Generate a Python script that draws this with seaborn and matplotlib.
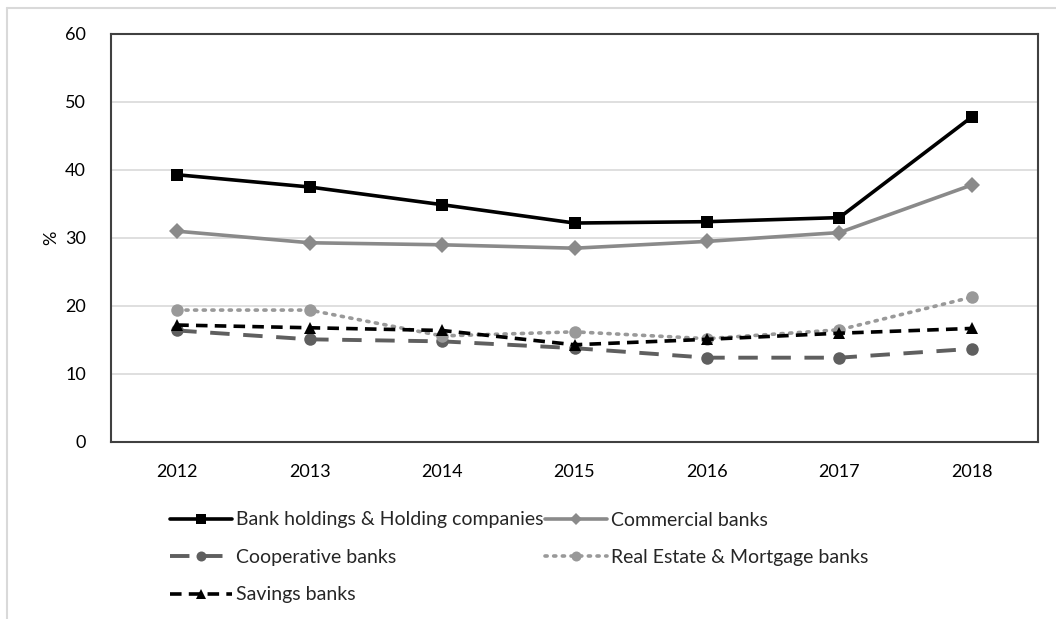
import matplotlib
matplotlib.use("Agg")
import matplotlib.pyplot as plt
from matplotlib.lines import Line2D
import seaborn as sns
import pandas as pd

# Share of institutions (%) per year and bank type
years = [2012, 2013, 2014, 2015, 2016, 2017, 2018]
bank_holdings = [39.3, 37.5, 34.9, 32.2, 32.4, 33.0, 47.8]
commercial = [31.0, 29.3, 29.0, 28.5, 29.5, 30.8, 37.8]
cooperative = [16.4, 15.1, 14.8, 13.8, 12.4, 12.4, 13.7]
real_estate = [19.4, 19.4, 15.6, 16.2, 15.2, 16.5, 21.3]
savings = [17.2, 16.8, 16.4, 14.3, 15.1, 16.0, 16.7]

series_names = [
    "Bank holdings & Holding companies",
    "Commercial banks",
    "Cooperative banks",
    "Real Estate & Mortgage banks",
    "Savings banks",
]
series_values = [bank_holdings, commercial, cooperative, real_estate, savings]

styles = {
    "Bank holdings & Holding companies": dict(color="#000000", lw=2.6, ls="-", marker="s", ms=9),
    "Commercial banks": dict(color="#8a8a8a", lw=2.6, ls="-", marker="D", ms=8),
    "Cooperative banks": dict(color="#5f5f5f", lw=2.8, ls=(0, (5, 3.5)), marker="o", ms=9),
    "Real Estate & Mortgage banks": dict(color="#999999", lw=2.6, ls=(0, (0.6, 1.8)), marker="o", ms=9),
    "Savings banks": dict(color="#000000", lw=2.6, ls=(0, (3.2, 2.0)), marker="^", ms=9),
}

df = pd.DataFrame(
    [(n, y, v) for n, vals in zip(series_names, series_values) for y, v in zip(years, vals)],
    columns=["series", "year", "value"],
)

sns.set_theme(style="white")
plt.rcParams["font.family"] = ["Lato", "DejaVu Sans"]

fig = plt.figure(figsize=(10.56, 6.19), dpi=100)
ax = fig.add_axes([111 / 1056, 1 - 442 / 619, (1038 - 111) / 1056, (442 - 34) / 619])

handles = {}
for name in series_names:
    st = styles[name]
    sub = df[df["series"] == name]
    sns.lineplot(data=sub, x="year", y="value", ax=ax, color=st["color"],
                 linewidth=st["lw"], marker=st["marker"], markersize=st["ms"],
                 markeredgewidth=0, legend=False)
    line = ax.lines[-1]
    line.set_linestyle(st["ls"])
    line.set_dash_capstyle("round" if name.startswith("Real") else "butt")
    handles[name] = Line2D([], [], color=st["color"], lw=st["lw"], ls=st["ls"],
                           marker=st["marker"], markersize=st["ms"] * 0.8,
                           markeredgewidth=0,
                           dash_capstyle="round" if name.startswith("Real") else "butt")

ax.set_xlim(2011.5, 2018.5)
ax.set_ylim(0, 60)
ax.set_xticks(years)
ax.set_xticklabels([str(y) for y in years])
ax.set_yticks(range(0, 61, 10))
ax.yaxis.grid(True, color="#d9d9d9", linewidth=1.2)
ax.xaxis.grid(False)
ax.set_axisbelow(True)
ax.tick_params(axis="both", length=0, labelsize=13, colors="#000000")
ax.tick_params(axis="y", pad=18)
ax.tick_params(axis="x", pad=16)
ax.set_xlabel("")
ax.set_ylabel("%", fontsize=13, labelpad=4, color="#000000")
for sp in ax.spines.values():
    sp.set_color("#404040")
    sp.set_linewidth(1.5)

# column-major legend ordering so rows read pairwise
order = [
    "Bank holdings & Holding companies",
    "Cooperative banks",
    "Savings banks",
    "Commercial banks",
    "Real Estate & Mortgage banks",
]
fig.legend([handles[n] for n in order], order, ncol=2, frameon=False,
           loc="upper left", bbox_to_anchor=(152 / 1056, 1 - 494 / 619),
           fontsize=14, handlelength=3.2, handletextpad=0.2,
           columnspacing=0.1, labelspacing=1.05)

# light outer frame
fig.add_artist(Line2D([7 / 1056, 7 / 1056], [0, 1 - 8 / 619], color="#d9d9d9", lw=1.5,
                      transform=fig.transFigure))
fig.add_artist(Line2D([7 / 1056, 1], [1 - 8 / 619, 1 - 8 / 619], color="#d9d9d9", lw=1.5,
                      transform=fig.transFigure))

fig.savefig("out.png", dpi=100)
